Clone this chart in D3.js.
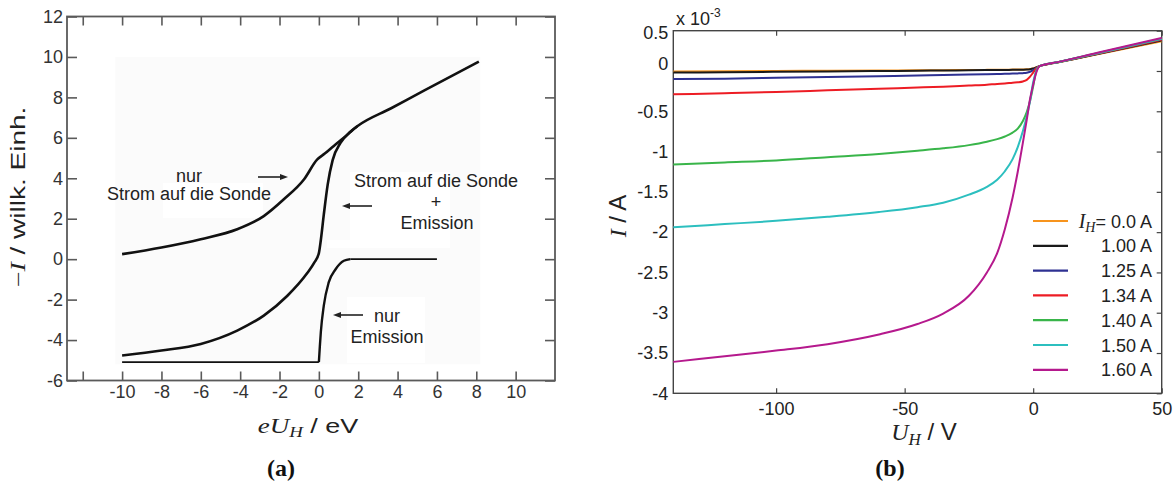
<!DOCTYPE html>
<html><head><meta charset="utf-8">
<script src="https://cdn.jsdelivr.net/npm/d3@7"></script>
<style>
body{margin:0;background:#fff}
svg{display:block}
text{font-family:"Liberation Sans",Arial,sans-serif}
.m{font-family:"Liberation Serif","Times New Roman",serif;font-style:italic}
</style>
</head><body>
<svg id="c" width="1173" height="487"></svg>
<script>
// ---------- Panel (a) data ----------
const aTicksX = [-12,-10,-8,-6,-4,-2,0,2,4,6,8,10];
const aTicksY = [-6,-4,-2,0,2,4,6,8,10,12];
// "nur Strom auf die Sonde" curve (continues as common branch)
const sondeX = [-10,-8,-6,-4.15,-2.8,-1.78,-0.76,-0.08,0.3,0.76,1.3,1.95,3.65,5.34,8.13];
const sondeY = [0.25,0.58,0.99,1.48,2.13,2.96,3.94,4.93,5.22,5.6,6.03,6.57,7.45,8.33,9.77];
// "Strom auf die Sonde + Emission" curve
const mixX = [-10,-8,-6,-4.15,-2.8,-1.6,-0.6,-0.25,0,0.1,0.25,0.45,0.7,1.1,1.6,1.95];
const mixY = [-4.76,-4.52,-4.19,-3.53,-2.79,-1.81,-0.7,-0.2,0.3,0.95,2.2,3.7,4.9,5.75,6.3,6.57];
// "nur Emission" curve: flat, rise, flat
const emLowX = [-10,0], emLowY = [-5.09,-5.09];
const emRiseX = [0,0.05,0.1,0.25,0.5,0.85,1.27,1.6];
const emRiseY = [-5.09,-4.3,-3.6,-2.3,-1.15,-0.5,-0.08,0];
const emHighX = [1.6,6], emHighY = [0,0];

// ---------- Panel (b) data ----------
const bTicksX = [-100,-50,0,50];
const bTicksY = [0.5,0,-0.5,-1,-1.5,-2,-2.5,-3,-3.5,-4];
const uH = [-140,-120,-100,-80,-60,-45,-35,-25,-18,-14,-11,-8,-6,-4,-2.5,-1.2,0,1.2,2.5,10,25,50];
const i000 = [-0.005,-0.002,0,0.003,0.006,0.008,0.01,0.012,0.014,0.015,0.016,0.017,0.018,0.019,0.021,0.025,0.032,0.046,0.06,0.109,0.207,0.37];
const i100 = [-0.02,-0.015,-0.01,-0.005,0,0.003,0.006,0.009,0.011,0.012,0.013,0.014,0.015,0.016,0.018,0.022,0.03,0.045,0.06,0.11,0.21,0.38];
const i125 = [-0.1,-0.095,-0.085,-0.075,-0.065,-0.057,-0.05,-0.045,-0.04,-0.037,-0.035,-0.032,-0.03,-0.027,-0.022,-0.01,0.01,0.04,0.06,0.111,0.215,0.39];
const i134 = [-0.29,-0.275,-0.26,-0.24,-0.22,-0.205,-0.195,-0.18,-0.17,-0.16,-0.155,-0.145,-0.14,-0.13,-0.11,-0.07,-0.02,0.03,0.06,0.111,0.215,0.39];
const i140 = [-1.16,-1.135,-1.11,-1.07,-1.03,-0.99,-0.96,-0.92,-0.878,-0.846,-0.813,-0.765,-0.715,-0.62,-0.51,-0.37,-0.19,0,0.06,0.112,0.22,0.4];
const i150 = [-1.94,-1.9,-1.86,-1.81,-1.75,-1.69,-1.635,-1.535,-1.437,-1.349,-1.244,-1.094,-0.944,-0.744,-0.564,-0.369,-0.14,0,0.06,0.112,0.22,0.4];
const i160 = [-3.61,-3.54,-3.47,-3.39,-3.27,-3.14,-3.01,-2.79,-2.5,-2.26,-1.96,-1.57,-1.25,-0.89,-0.605,-0.345,-0.17,-0.02,0.06,0.113,0.226,0.41];
const legendLabels = ["0.0 A","1.00 A","1.25 A","1.34 A","1.40 A","1.50 A","1.60 A"];
const seriesColors = ["#f7941d","#1a1a1a","#2e3192","#ed1c24","#39b54a","#2cbfbf","#b5198d"];
const seriesValues = [i000,i100,i125,i134,i140,i150,i160];

const svg = d3.select("#c");

// ================= Panel (a) =================
const xa = d3.scaleLinear().domain([-12.8,12]).range([67,555]);
const ya = d3.scaleLinear().domain([-6,12]).range([380.5,16.5]);
const ga = svg.append("g");

// faint scanned background
ga.append("rect").attr("x",xa(-10.35)).attr("y",ya(10)).attr("width",xa(8.2)-xa(-10.35)).attr("height",ya(-5.2)-ya(10)).attr("fill","#fbfbfb");
// white patches behind labels
[[163,183,100,35],[350,172,100,70],[347,297,78,66],[327,240,123,8]].forEach(r=>{
  ga.append("rect").attr("x",r[0]).attr("y",r[1]).attr("width",r[2]).attr("height",r[3]).attr("fill","#fff");
});

const axColA = "#5a5a5a";
const fmt = d => String(d);
ga.append("g").attr("transform",`translate(0,${ya(-6)})`)
  .call(d3.axisBottom(xa).tickValues(aTicksX).tickSize(-9).tickSizeOuter(0).tickPadding(5).tickFormat(d=>d===-12?"":fmt(d)));
ga.append("g").attr("transform",`translate(0,${ya(12)})`)
  .call(d3.axisTop(xa).tickValues(aTicksX).tickSize(-9).tickSizeOuter(0).tickFormat(""));
ga.append("g").attr("transform",`translate(${xa(-12.8)},0)`)
  .call(d3.axisLeft(ya).tickValues(aTicksY).tickSize(-10).tickSizeOuter(0).tickPadding(4).tickFormat(fmt));
ga.append("g").attr("transform",`translate(${xa(12)},0)`)
  .call(d3.axisRight(ya).tickValues(aTicksY).tickSize(-10).tickSizeOuter(0).tickFormat(""));
ga.selectAll(".domain").remove();
ga.selectAll(".tick line").attr("stroke",axColA).attr("stroke-width",1.6);
ga.selectAll(".tick text").attr("fill","#333").style("font-size","18px").style("font-family","Liberation Sans, Arial, sans-serif");
ga.append("rect").attr("x",xa(-12.8)).attr("y",ya(12)).attr("width",xa(12)-xa(-12.8)).attr("height",ya(-6)-ya(12))
  .attr("fill","none").attr("stroke",axColA).attr("stroke-width",1.8);

const lineA = (xs,ys,curve) => d3.line().x((d,i)=>xa(xs[i])).y((d,i)=>ya(ys[i])).curve(curve)(xs);
ga.append("path").attr("d",lineA(sondeX,sondeY,d3.curveMonotoneX)).attr("fill","none").attr("stroke","#111").attr("stroke-width",2.6);
ga.append("path").attr("d",lineA(mixX,mixY,d3.curveMonotoneX)).attr("fill","none").attr("stroke","#111").attr("stroke-width",2.6);
ga.append("path").attr("d",lineA(emRiseX,emRiseY,d3.curveMonotoneX)).attr("fill","none").attr("stroke","#111").attr("stroke-width",2.4);
ga.append("path").attr("d",lineA(emLowX,emLowY,d3.curveLinear)).attr("fill","none").attr("stroke","#111").attr("stroke-width",1.6);
ga.append("path").attr("d",lineA(emHighX,emHighY,d3.curveLinear)).attr("fill","none").attr("stroke","#111").attr("stroke-width",1.6);

// annotations
function arrow(g,x1,x2,y){
  const dir = Math.sign(x2-x1);
  g.append("line").attr("x1",x1).attr("x2",x2-dir*6).attr("y1",y).attr("y2",y).attr("stroke","#222").attr("stroke-width",1.6);
  g.append("path").attr("d",`M${x2},${y} L${x2-dir*8},${y-3} L${x2-dir*8},${y+3} Z`).attr("fill","#222");
}
const annA = ga.append("g").attr("fill","#222").style("font-size","18px").attr("text-anchor","middle");
annA.append("text").attr("x",189).attr("y",182).text("nur");
annA.append("text").attr("x",189).attr("y",200).text("Strom auf die Sonde");
arrow(ga,258,288,177);
annA.append("text").attr("x",436).attr("y",187).text("Strom auf die Sonde");
annA.append("text").attr("x",436).attr("y",208).text("+");
annA.append("text").attr("x",437).attr("y",229).text("Emission");
arrow(ga,372,342,206);
annA.append("text").attr("x",387).attr("y",322).text("nur");
annA.append("text").attr("x",387).attr("y",343).text("Emission");
arrow(ga,363,333,315);

// axis labels (a) – stretched along their length like the scanned original
const ylabA = ga.append("text").attr("transform","translate(25,197) rotate(-90) scale(1.4,1)").attr("text-anchor","middle").style("font-size","20px").attr("fill","#222");
ylabA.append("tspan").attr("class","m").style("font-style","normal").text("\u2212");
ylabA.append("tspan").attr("class","m").text("I");
ylabA.append("tspan").text(" / willk. Einh.");
const xlabA = ga.append("text").attr("transform","translate(308,433) scale(1.35,1)").attr("text-anchor","middle").style("font-size","20px").attr("fill","#222");
xlabA.append("tspan").attr("class","m").text("eU");
xlabA.append("tspan").attr("class","m").attr("dy",4).style("font-size","14px").text("H");
xlabA.append("tspan").attr("dy",-4).text(" / eV");
ga.append("text").attr("x",281).attr("y",476).attr("text-anchor","middle")
  .style("font-family","Liberation Serif, Times New Roman, serif").style("font-weight","bold").style("font-size","24px").attr("fill","#111").text("(a)");

// ================= Panel (b) =================
const xb = d3.scaleLinear().domain([-140,50]).range([673.3,1161.7]);
const yb = d3.scaleLinear().domain([-4,0.5]).range([393.3,30.7]);
const gb = svg.append("g");
const axColB = "#444";

gb.append("g").attr("transform",`translate(0,${yb(-4)})`)
  .call(d3.axisBottom(xb).tickValues(bTicksX).tickSize(-5).tickSizeOuter(0).tickPadding(9).tickFormat(fmt));
gb.append("g").attr("transform",`translate(0,${yb(0.5)})`)
  .call(d3.axisTop(xb).tickValues(bTicksX).tickSize(-5).tickSizeOuter(0).tickFormat(""));
const yAxB = gb.append("g").attr("transform",`translate(${xb(-140)},0)`)
  .call(d3.axisLeft(yb).tickValues(bTicksY).tickSize(0).tickSizeOuter(0).tickPadding(5).tickFormat(fmt));
gb.append("g").attr("transform",`translate(${xb(50)},0)`)
  .call(d3.axisRight(yb).tickValues(bTicksY).tickSize(-5).tickSizeOuter(0).tickFormat(""));
gb.selectAll(".domain").remove();
gb.selectAll(".tick line").attr("stroke",axColB).attr("stroke-width",1.2);
gb.selectAll(".tick text").attr("fill","#222").style("font-size","18px").style("font-family","Liberation Sans, Arial, sans-serif");
// the original's "0" and "0.5" labels sit slightly off their ticks
yAxB.selectAll(".tick text").filter(d=>d===0).attr("dy","-0.07em");
yAxB.selectAll(".tick text").filter(d=>d===0.5).attr("dy","0.45em");
gb.append("rect").attr("x",xb(-140)).attr("y",yb(0.5)).attr("width",xb(50)-xb(-140)).attr("height",yb(-4)-yb(0.5))
  .attr("fill","none").attr("stroke",axColB).attr("stroke-width",1.4);

const lineB = d3.line().x((d,i)=>xb(uH[i])).y(d=>yb(d)).curve(d3.curveMonotoneX);
seriesValues.forEach((vals,k)=>{
  gb.append("path").attr("d",lineB(vals)).attr("fill","none").attr("stroke",seriesColors[k]).attr("stroke-width",2);
});

// exponent label
const ex = gb.append("text").attr("x",676).attr("y",25).style("font-size","18px").attr("fill","#222");
ex.append("tspan").text("x 10");
ex.append("tspan").attr("dy",-8).style("font-size","12px").text("-3");

// legend
legendLabels.forEach((lab,k)=>{
  const y = 221 + k*24.8;
  gb.append("line").attr("x1",1033).attr("x2",1068).attr("y1",y).attr("y2",y).attr("stroke",seriesColors[k]).attr("stroke-width",2.2);
  const t = gb.append("text").attr("x",1152).attr("y",y+6.5).attr("text-anchor","end").style("font-size","18px").attr("fill","#222");
  if(k===0){
    t.append("tspan").attr("class","m").style("font-size","20px").text("I");
    t.append("tspan").attr("class","m").attr("dy",4).style("font-size","14px").text("H");
    t.append("tspan").attr("dy",-4).text("= "+lab);
  } else t.text(lab);
});

// axis labels (b)
const ylabB = gb.append("text").attr("transform","translate(626,216) rotate(-90)").attr("text-anchor","middle").style("font-size","24px").attr("fill","#222");
ylabB.append("tspan").attr("class","m").text("I");
ylabB.append("tspan").text(" / A");
const xlabB = gb.append("text").attr("x",924).attr("y",440).attr("text-anchor","middle").style("font-size","24px").attr("fill","#222");
xlabB.append("tspan").attr("class","m").text("U");
xlabB.append("tspan").attr("class","m").attr("dy",5).style("font-size","17px").text("H");
xlabB.append("tspan").attr("dy",-5).text(" / V");
gb.append("text").attr("x",890).attr("y",476).attr("text-anchor","middle")
  .style("font-family","Liberation Serif, Times New Roman, serif").style("font-weight","bold").style("font-size","24px").attr("fill","#111").text("(b)");
</script>
</body></html>
